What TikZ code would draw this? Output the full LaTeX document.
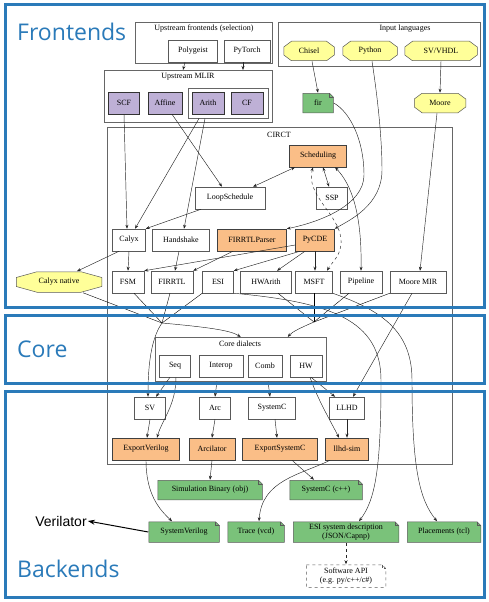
\documentclass[tikz,border=0pt]{standalone}
\usepackage{fontspec}
\setmainfont{Liberation Serif}
\newfontfamily\headfont{Open Sans}
\newfontfamily\notefont{Liberation Sans}
\usetikzlibrary{arrows.meta}
\definecolor{framecol}{RGB}{42,122,185}
\definecolor{purplec}{RGB}{190,176,214}
\definecolor{orangec}{RGB}{250,190,135}
\definecolor{yellowc}{RGB}{255,255,153}
\definecolor{greenc}{RGB}{122,194,122}
% octagon and note outlines, drawn inside the node box
\newcommand\octpath[1]{\filldraw[fill=yellowc, draw=black!65, line width=0.5pt]
  ([shift={(#1,-0.25pt)}]path picture bounding box.north west) -- ([shift={(-#1,-0.25pt)}]path picture bounding box.north east)
  -- ([shift={(-0.25pt,-6pt)}]path picture bounding box.north east) -- ([shift={(-0.25pt,6pt)}]path picture bounding box.south east)
  -- ([shift={(-#1,0.25pt)}]path picture bounding box.south east) -- ([shift={(#1,0.25pt)}]path picture bounding box.south west)
  -- ([shift={(0.25pt,6pt)}]path picture bounding box.south west) -- ([shift={(0.25pt,-6pt)}]path picture bounding box.north west) -- cycle;}
\newcommand\notepath[1]{\filldraw[#1, line width=0.5pt]
  ([shift={(0.25pt,-0.25pt)}]path picture bounding box.north west) -- ([shift={(-4pt,-0.25pt)}]path picture bounding box.north east)
  -- ([shift={(-0.25pt,-4pt)}]path picture bounding box.north east) -- ([shift={(-0.25pt,0.25pt)}]path picture bounding box.south east)
  -- ([shift={(0.25pt,0.25pt)}]path picture bounding box.south west) -- cycle;
  \draw[#1, fill=none, line width=0.5pt] ([xshift=-4pt]path picture bounding box.north east) |- ([yshift=-4pt]path picture bounding box.north east);}
\tikzset{
  box/.style={draw=black!65, line width=0.5pt, minimum height=22pt, inner sep=1pt, font=\fontsize{8}{9}\selectfont},
  upstream/.style={box, fill=purplec, draw=black!80},
  tool/.style={box, fill=orangec, draw=black!75},
  lang/.style={box, draw=none, minimum height=20pt, path picture={\octpath{#1}}},
  lang/.default=8pt,
  artifact/.style={box, draw=none, minimum height=20pt, path picture={\notepath{fill=greenc, draw=black!65}}},
  apinote/.style={box, draw=none, minimum height=23pt, path picture={\notepath{fill=white, draw=black!65, dashed}}},
  cluster/.style={draw=black!60, line width=0.5pt, anchor=north west, inner sep=0pt},
  title/.style={font=\fontsize{8}{9}\selectfont, inner sep=0pt},
  link/.style={-{Stealth[length=4pt,width=3pt]}, line width=0.45pt, black!85},
  both/.style={{Stealth[length=4pt,width=3pt]}-{Stealth[length=4pt,width=3pt]}, line width=0.45pt, black!85},
  frame/.style={draw=framecol, line width=3pt},
  heading/.style={font=\headfont\fontsize{23}{26}\selectfont, text=framecol, anchor=west, inner sep=0pt},
}
\begin{document}
\begin{tikzpicture}[x=1pt,y=-1pt]
\useasboundingbox (0,0) rectangle (488,602);

% clusters
\node[cluster, minimum width=137pt, minimum height=41pt] (upfe) at (135,22) {};
\node[title] (upfename) at (204,29) {Upstream frontends (selection)};
\node[cluster, minimum width=202pt, minimum height=44pt] (inlang) at (278,22) {};
\node[title] (inlangname) at (405,29) {Input languages};
\node[cluster, minimum width=168pt, minimum height=52pt] (upmlir) at (104,70) {};
\node[title] (upmlirname) at (188,77) {Upstream MLIR};
\node[cluster, minimum width=80pt, minimum height=30pt] (arithcf) at (188,88) {};
\node[cluster, minimum width=345pt, minimum height=337pt] (circt) at (107,127) {};
\node[title] (circtname) at (279,135) {CIRCT};
\node[cluster, minimum width=171pt, minimum height=44pt] (core) at (155,337) {};
\node[title] (corename) at (240,344) {Core dialects};

% frontends
\node[box, minimum width=49pt] (polygeist) at (193,51) {Polygeist};
\node[box, minimum width=46pt] (pytorch) at (247,51) {PyTorch};
\node[lang, minimum width=51pt] (chisel) at (309,51) {Chisel};
\node[lang, minimum width=55pt] (python) at (370,51) {Python};
\node[lang, minimum width=73pt] (svvhdl) at (441,51) {SV/VHDL};
\node[upstream, minimum width=31pt] (scf) at (124,103) {SCF};
\node[upstream, minimum width=34pt] (affine) at (165,103) {Affine};
\node[upstream, minimum width=32pt] (arith) at (208,103) {Arith};
\node[upstream, minimum width=32pt] (cf) at (247,103) {CF};
\node[artifact, minimum width=31pt] (fir) at (318,103) {fir};
\node[lang, minimum width=52pt] (moore) at (440,103) {Moore};

% circt
\node[tool, minimum width=57pt] (scheduling) at (318,156) {Scheduling};
\node[box, minimum width=31pt] (ssp) at (332,198) {SSP};
\node[box, minimum width=70pt] (loopsched) at (230,198) {LoopSchedule};
\node[box, minimum width=33pt] (calyx) at (129,240) {Calyx};
\node[box, minimum width=57pt] (handshake) at (181,240) {Handshake};
\node[tool, minimum width=69pt] (firrtlparser) at (252,240) {FIRRTLParser};
\node[tool, minimum width=39pt] (pycde) at (315,240) {PyCDE};
\node[lang=21pt, minimum width=86pt, minimum height=21pt] (calyxnative) at (59,282) {Calyx native};
\node[box, minimum width=32pt] (fsm) at (128,282) {FSM};
\node[box, minimum width=42pt] (firrtl) at (172,282) {FIRRTL};
\node[box, minimum width=31pt] (esi) at (218,282) {ESI};
\node[box, minimum width=51pt] (hwarith) at (266,282) {HWArith};
\node[box, minimum width=37pt] (msft) at (314,282) {MSFT};
\node[box, minimum width=42pt] (pipeline) at (361,282) {Pipeline};
\node[box, minimum width=56pt] (mooremir) at (418,282) {Moore MIR};
\node[box, minimum width=31pt] (seq) at (175,366) {Seq};
\node[box, minimum width=44pt] (interop) at (221,366) {Interop};
\node[box, minimum width=34pt] (comb) at (265,366) {Comb};
\node[box, minimum width=32pt] (hw) at (306,366) {HW};
\node[box, minimum width=31pt] (sv) at (150,408) {SV};
\node[box, minimum width=31pt] (arc) at (215,408) {Arc};
\node[box, minimum width=47pt] (systemc) at (272,408) {SystemC};
\node[box, minimum width=35pt] (llhd) at (347,408) {LLHD};
\node[tool, minimum width=67pt] (expverilog) at (146,449) {ExportVerilog};
\node[tool, minimum width=46pt] (arcilator) at (212,449) {Arcilator};
\node[tool, minimum width=75pt] (expsystemc) at (280,449) {ExportSystemC};
\node[tool, minimum width=43pt] (llhdsim) at (347,449) {llhd-sim};

% outputs
\node[artifact, minimum width=105pt] (simbinary) at (210,490) {Simulation Binary (obj)};
\node[artifact, minimum width=73pt] (systemcout) at (326,490) {SystemC (c++)};
\node[artifact, minimum width=71pt, minimum height=21pt] (sysverilog) at (184,532) {SystemVerilog};
\node[artifact, minimum width=57pt, minimum height=21pt] (trace) at (256,532) {Trace (vcd)};
\node[artifact, minimum width=106pt, minimum height=21pt, align=center] (esidesc) at (346,532) {ESI system description\\(JSON/Capnp)};
\node[artifact, minimum width=74pt, minimum height=21pt] (placements) at (444,532) {Placements (tcl)};
\node[apinote, minimum width=80pt, align=center] (swapi) at (346,576) {Software API\\(e.g. py/c++/c\#)};
\node[font=\notefont\fontsize{14}{16}\selectfont, inner sep=1pt] (verilator) at (61,521) {Verilator};

\coordinate (mergeA) at (162,323);
\coordinate (mergeB) at (314,322);

% frontend edges
\draw[link] ([xshift=-8pt]polygeist.south) -- ([xshift=-10pt]polygeist.south |- upmlir.north);
\draw[link] ([xshift=-4pt]pytorch.south) -- ([xshift=-4pt]pytorch.south |- upmlir.north);
\draw[link] ([xshift=3pt]chisel.south) -- (fir.north);
\draw[link] (svvhdl.south) -- (moore.north);
\draw[link] (fir.east) .. controls (350,112) and (364,140) .. (364,175) .. controls (364,205) and (320,222) .. (firrtlparser.north east);
\draw[link] ([xshift=2pt]python.south) .. controls (378,100) and (382,140) .. (382,170) .. controls (382,205) and (350,220) .. (pycde.north east);
\draw[link] ([xshift=-3pt]moore.south) -- ([xshift=2pt]mooremir.north);
\draw[link] (scf.south) -- ([xshift=-2pt]calyx.north);
\draw[link] ([xshift=7pt]affine.south) -- ([xshift=-8pt]loopsched.north);
\draw[link] ([xshift=-9pt]arith.south |- arithcf.south) -- ([xshift=6pt]calyx.north);
\draw[link] ([xshift=-3pt]arith.south |- arithcf.south) -- ([xshift=3pt]handshake.north);

% circt edges
\draw[link] ([xshift=-29pt]loopsched.south) -- (calyx.north east);
\draw[both] ([xshift=-23pt]scheduling.south) -- ([xshift=23pt]loopsched.north);
\draw[both] ([xshift=5pt]scheduling.south) -- ([xshift=-3pt]ssp.north);
\draw[both] ([xshift=17pt]scheduling.south) .. controls (352,185) and (362,215) .. (pipeline.north);
\draw[both, dashed] ([xshift=-5pt]scheduling.south) .. controls (305,195) and (340,215) .. (341,240) .. controls (342,255) and (332,262) .. ([xshift=13pt]msft.north);
\draw[link] (calyx.south) -- (fsm.north);
\draw[link] ([xshift=-10pt]calyx.south) -- ([xshift=18pt]calyxnative.north);
\draw[link] ([xshift=-2pt]handshake.south) -- ([xshift=3pt]firrtl.north);
\draw[link] ([xshift=-19pt]firrtlparser.south) -- (firrtl.north east);
\draw[link] ([yshift=-5pt]pycde.west) -- (fsm.north east);
\draw[link] ([xshift=-15pt]pycde.south) -- (esi.north east);
\draw[link] ([xshift=-10pt]pycde.south) -- ([xshift=11pt]hwarith.north);
\draw[link] (pycde.south) -- ([xshift=1pt]msft.north);

% into the core dialects
\draw ([xshift=6pt]fsm.south) -- (mergeA);
\draw ([xshift=-2pt]firrtl.south) -- (mergeA);
\draw (esi.south west) -- (mergeA);
\draw ([xshift=24pt]calyxnative.south) -- (mergeA);
\draw[link] (mergeA) .. controls (205,327) and (230,330) .. (core.north);
\draw[link] (mergeA) .. controls (150,340) and (148,370) .. ([xshift=-2pt]sv.north);
\draw ([xshift=12pt]hwarith.south) -- (mergeB);
\draw (msft.south) -- (mergeB);
\draw ([xshift=-12pt]pipeline.south) -- (mergeB);
\draw (mooremir.south west) -- (mergeB);
\draw[link] (mergeB) .. controls (300,328) and (292,332) .. ([xshift=47pt]core.north);
\draw[link] (esi.south east) .. controls (330,302) and (381,320) .. (381,380) .. controls (381,470) and (375,500) .. ([xshift=13pt]esidesc.north);
\draw[link] (msft.south east) .. controls (380,310) and (412,330) .. (412,380) .. controls (412,470) and (420,500) .. ([xshift=-7pt]placements.north);
\draw[link] ([xshift=-6pt]mooremir.south) -- ([xshift=6pt]llhd.north);

% backend edges
\draw[link] ([xshift=-5pt]seq.south) -- ([xshift=6pt]sv.north);
\draw[link] ([xshift=1pt]seq.south) .. controls (176,405) and (162,420) .. ([xshift=11pt]expverilog.north);
\draw[link] ([xshift=-4pt]interop.south |- core.south) -- (arc.north);
\draw[link] ([xshift=3pt]comb.south |- core.south) -- ([xshift=-2pt]systemc.north);
\draw[link] ([xshift=5pt]hw.south) -- ([xshift=-12pt]llhd.north);
\draw[link] ([xshift=4pt]hw.south) .. controls (318,400) and (330,420) .. ([xshift=-8pt]llhdsim.north);
\draw[link] (sv.south) -- ([xshift=1pt]expverilog.north);
\draw[link] (arc.south) -- (arcilator.north);
\draw[link] ([xshift=3pt]systemc.south) -- ([xshift=-3pt]expsystemc.north);
\draw[link] (llhd.south) -- (llhdsim.north);
\draw[link] (expverilog.south) .. controls (146,495) and (160,510) .. ([xshift=-12pt]sysverilog.north);
\draw[link] (arcilator.south) -- (simbinary.north);
\draw[link] ([xshift=12pt]expsystemc.south) -- ([xshift=-12pt]systemcout.north);
\draw[link] ([xshift=-17pt]llhdsim.south) .. controls (300,475) and (262,480) .. ([xshift=3pt]trace.north);
\draw[link, dashed] (esidesc.south) -- (swapi.north);
\draw[-{Stealth[length=7pt,width=5pt]}, line width=1pt] (sysverilog.west) -- (verilator.east);

% frames
\draw[frame] (5,5) rectangle (484,307);
\draw[frame] (5,315) rectangle (484,383);
\draw[frame] (5,391) rectangle (484,597);
\node[heading] (frontends) at (17,32) {Frontends};
\node[heading] (corehead) at (17,349) {Core};
\node[heading] (backends) at (17,569) {Backends};
\end{tikzpicture}
\end{document}
